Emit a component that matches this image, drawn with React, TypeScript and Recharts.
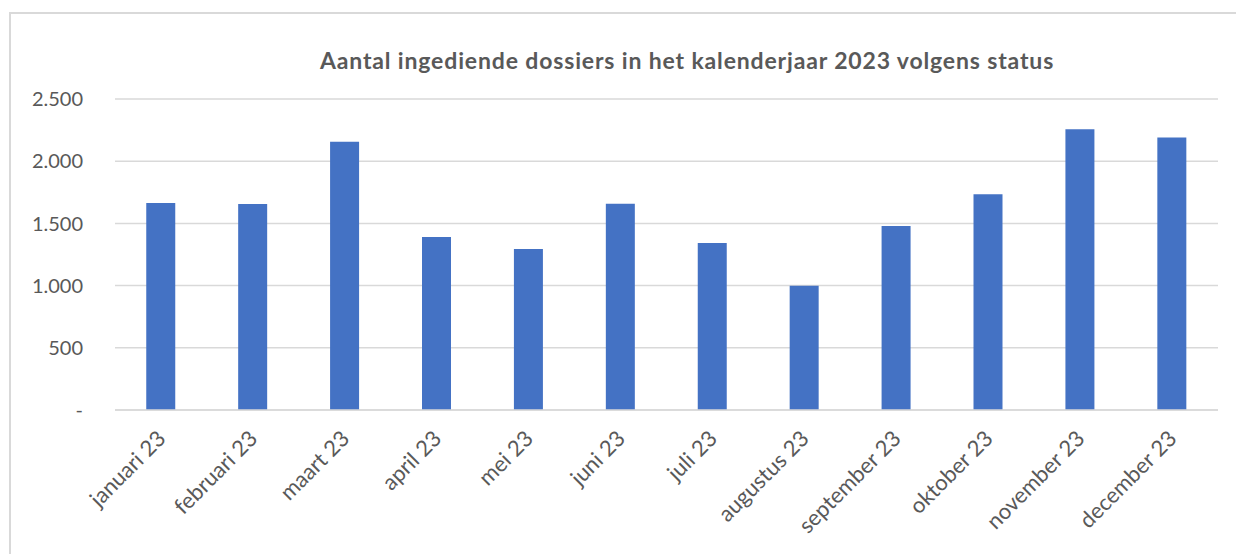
import React from 'react';
import { BarChart, Bar, XAxis, YAxis, CartesianGrid } from 'recharts';

const months = [
  'januari 23', 'februari 23', 'maart 23', 'april 23', 'mei 23', 'juni 23',
  'juli 23', 'augustus 23', 'september 23', 'oktober 23', 'november 23', 'december 23',
];
const dossiers = [1664, 1656, 2156, 1391, 1294, 1658, 1342, 999, 1479, 1734, 2257, 2190];
const yTicks = [0, 500, 1000, 1500, 2000, 2500];

const data = months.map((month, i) => ({ month, dossiers: dossiers[i] }));

const FONT = 'Lato, "Open Sans", sans-serif';
const TEXT = '#595959';

// Dutch thousands separator, zero shown as a dash like in Excel
const formatY = (v: number) => (v === 0 ? '-' : v.toString().replace(/\B(?=(\d{3})+(?!\d))/g, '.'));

const AngledTick: React.FC<any> = ({ x, y, payload }) => (
  <g transform={`translate(${x + 6},${y + 22})`}>
    <text
      x={0}
      y={0}
      textAnchor="end"
      transform="rotate(-45)"
      fill={TEXT}
      fontSize={22}
      fontFamily={FONT}
    >
      {payload.value}
    </text>
  </g>
);

export default function App() {
  return (
    <div style={{ position: 'absolute', left: 0, top: 0, width: 1236, height: 554, background: '#fff', overflow: 'hidden' }}>
      <div
        style={{
          position: 'absolute', left: 9, top: 12, width: 1240, height: 560,
          borderTop: '2px solid #d9d9d9', borderLeft: '2px solid #d9d9d9',
        }}
      />
      <div
        style={{
          position: 'absolute', left: 0, width: 1374, top: 46, textAlign: 'center',
          fontFamily: FONT, fontWeight: 700, fontSize: 23, letterSpacing: 0.85, color: TEXT,
        }}
      >
        Aantal ingediende dossiers in het kalenderjaar 2023 volgens status
      </div>
      <BarChart
        width={1236}
        height={554}
        data={data}
        margin={{ top: 99, right: 18, left: 55, bottom: 34 }}
        barCategoryGap="34%"
        style={{ position: 'absolute', left: 0, top: 0 }}
      >
        <CartesianGrid vertical={false} stroke="#d9d9d9" strokeWidth={1.5} />
        <XAxis
          dataKey="month"
          axisLine={{ stroke: '#d9d9d9', strokeWidth: 1.5 }}
          tickLine={false}
          interval={0}
          height={110}
          tick={<AngledTick />}
        />
        <YAxis
          domain={[0, 2500]}
          ticks={yTicks}
          width={60}
          axisLine={false}
          tickLine={false}
          tickFormatter={formatY}
          tick={{ fill: TEXT, fontSize: 20, fontFamily: FONT }}
          tickMargin={26}
        />
        <Bar dataKey="dossiers" fill="#4472c4" isAnimationActive={false} />
      </BarChart>
    </div>
  );
}
